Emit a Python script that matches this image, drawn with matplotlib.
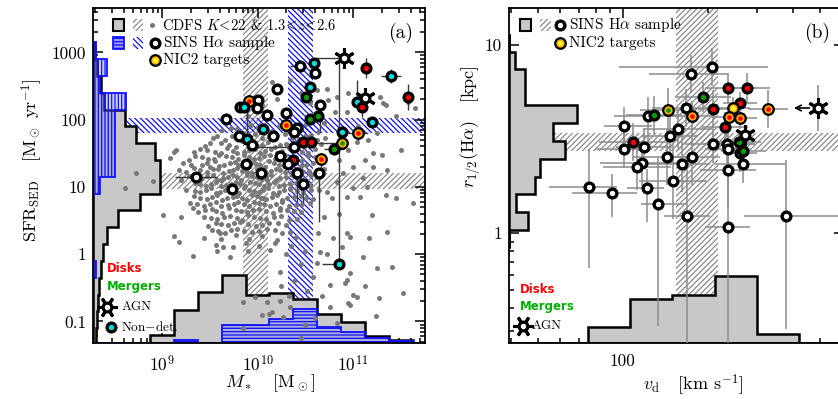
import numpy as np
import matplotlib
matplotlib.use('Agg')
import matplotlib.pyplot as plt
from matplotlib.patches import Rectangle, Polygon
from matplotlib.ticker import FixedLocator, FixedFormatter, LogLocator, NullFormatter

plt.rcParams['font.family'] = 'serif'
plt.rcParams['font.serif'] = ['cmr10']
plt.rcParams['mathtext.fontset'] = 'cm'
plt.rcParams['axes.formatter.use_mathtext'] = True
plt.rcParams['hatch.linewidth'] = 0.9

# ---------------- datos panel (a): log M*, log SFR ----------------
# CDFS K<22, 1.3<z<2.6 (puntos grises)
cdfs_pts = [
    (10.15, 2.56), (10.34, 2.59), (10.73, 2.46), (11.31, 2.25), (11.58, 2.26), (10.83, 2.34), (10.74, 2.29),
    (10.81, 2.11), (10.94, 2.11), (11.28, 2.34), (11.34, 2.22), (11.65, 2.17), (11.04, 1.67), (11.16, 1.70),
    (11.21, 1.50), (11.21, 1.29), (11.36, 1.25), (11.13, 1.40), (11.10, 1.13), (11.15, 1.00), (11.00, 0.98),
    (10.83, 1.07), (10.73, 0.92), (10.78, 0.83), (11.34, 0.88), (11.63, 0.76), (11.30, 1.47), (10.45, 2.40),
    (10.62, 2.44), (10.95, 2.40), (11.45, 2.05), (10.20, 2.30), (10.05, 2.22), (9.90, 2.05), (10.55, 2.25),
    (10.90, 1.85), (11.05, 1.90), (10.70, 1.95), (11.25, 1.80), (11.50, 1.55), (10.95, 1.55), (10.85, 1.40),
    (11.00, 1.30), (10.90, 1.20),
    (9.72, 1.88), (9.93, 1.92), (10.06, 1.84), (10.22, 1.90), (10.36, 1.86), (10.51, 1.93), (10.63, 1.82), (9.85, 1.80),
    (9.58, 1.76), (9.80, 1.72), (9.97, 1.78), (10.12, 1.74), (10.29, 1.79), (10.43, 1.71), (10.56, 1.77), (10.71, 1.73),
    (9.66, 1.70), (9.50, 1.66), (9.70, 1.63), (9.84, 1.68), (9.99, 1.61), (10.11, 1.67), (10.24, 1.62), (10.37, 1.66),
    (10.49, 1.60), (10.66, 1.64), (10.78, 1.60), (9.40, 1.56), (9.55, 1.52), (9.68, 1.58), (9.79, 1.51), (9.91, 1.55),
    (10.03, 1.50), (10.14, 1.57), (10.26, 1.53), (10.33, 1.58), (10.47, 1.52), (10.60, 1.56), (9.15, 1.55), (9.08, 1.43),
    (9.12, 1.52), (9.35, 1.46), (9.48, 1.42), (9.60, 1.48), (9.73, 1.44), (9.86, 1.47), (9.96, 1.41), (10.07, 1.46),
    (10.18, 1.42), (10.29, 1.48), (10.40, 1.43), (10.53, 1.46), (10.68, 1.42), (9.28, 1.40), (9.22, 1.35), (9.42, 1.32),
    (9.55, 1.38), (9.65, 1.33), (9.76, 1.37), (9.84, 1.31), (9.93, 1.36), (10.03, 1.32), (10.12, 1.38), (10.22, 1.33),
    (10.33, 1.36), (10.45, 1.31), (10.58, 1.35), (9.50, 1.30), (9.18, 1.25), (9.33, 1.28), (9.47, 1.22), (9.59, 1.27),
    (9.70, 1.23), (9.79, 1.28), (9.89, 1.22), (9.99, 1.27), (10.09, 1.21), (10.19, 1.26), (10.29, 1.22), (10.41, 1.27),
    (10.54, 1.23), (10.70, 1.26), (8.73, 1.20), (9.28, 1.16), (9.41, 1.12), (9.53, 1.18), (9.64, 1.13), (9.74, 1.17),
    (9.83, 1.11), (9.94, 1.16), (10.04, 1.12), (10.14, 1.18), (10.24, 1.13), (10.36, 1.17), (10.49, 1.12), (10.62, 1.15),
    (8.90, 1.09), (9.20, 1.10), (9.34, 1.06), (9.46, 1.02), (9.57, 1.08), (9.67, 1.03), (9.77, 1.07), (9.87, 1.01),
    (9.97, 1.06), (10.07, 1.02), (10.17, 1.08), (10.28, 1.03), (10.41, 1.07), (10.55, 1.01), (9.62, 1.10), (10.10, 1.10),
    (8.61, 0.98), (9.25, 0.96), (9.40, 0.92), (9.51, 0.98), (9.61, 0.93), (9.71, 0.97), (9.81, 0.91), (9.91, 0.96),
    (10.01, 0.92), (10.11, 0.98), (10.22, 0.93), (10.34, 0.97), (10.48, 0.92), (10.64, 0.95), (9.33, 0.86), (9.47, 0.82),
    (9.58, 0.88), (9.68, 0.83), (9.79, 0.87), (9.89, 0.81), (9.99, 0.86), (10.09, 0.82), (10.20, 0.88), (10.31, 0.83),
    (10.45, 0.87), (10.58, 0.82), (10.06, 0.83), (10.24, 0.65), (9.29, 0.76), (9.44, 0.72), (9.56, 0.78), (9.69, 0.73),
    (9.80, 0.77), (9.91, 0.71), (10.01, 0.76), (10.13, 0.72), (10.26, 0.78), (10.40, 0.73), (10.55, 0.76), (9.32, 0.68),
    (9.38, 0.63), (9.52, 0.67), (9.63, 0.61), (9.77, 0.66), (9.89, 0.62), (10.02, 0.67), (10.16, 0.61), (10.31, 0.66),
    (10.46, 0.62), (9.20, 0.55), (9.01, 0.58), (9.44, 0.56), (9.58, 0.52), (9.71, 0.57), (9.84, 0.51), (9.96, 0.55),
    (10.09, 0.52), (10.25, 0.57), (10.41, 0.53), (9.48, 0.42), (9.56, 0.47), (9.69, 0.43), (9.82, 0.48), (9.98, 0.42),
    (10.12, 0.46), (10.30, 0.43), (9.52, 0.36), (9.66, 0.32), (9.79, 0.38), (9.94, 0.33), (10.10, 0.37), (10.26, 0.31),
    (9.12, 0.27), (9.61, 0.31), (9.44, 0.24), (9.62, 0.22), (9.77, 0.28), (9.91, 0.23), (10.05, 0.27), (10.20, 0.21),
    (10.40, 0.26), (9.18, 0.18), (9.56, 0.14), (9.74, 0.11), (9.88, 0.17), (10.02, 0.12), (10.18, 0.16), (10.35, 0.12),
    (9.64, 0.10), (9.32, -0.03), (9.71, -0.04), (9.90, 0.04), (10.13, 0.06), (10.30, 0.01), (9.58, 0.05),
    (9.63, 1.84), (9.78, 1.86), (10.00, 1.88), (10.15, 1.83), (10.30, 1.84), (10.45, 1.88),
    (9.53, 1.73), (9.73, 1.75), (9.90, 1.74), (10.05, 1.72), (10.20, 1.77), (10.36, 1.73), (10.50, 1.75), (10.62, 1.70),
    (9.45, 1.61), (9.62, 1.65), (9.77, 1.60), (9.92, 1.64), (10.05, 1.63), (10.18, 1.60), (10.30, 1.64), (10.43, 1.62),
    (10.55, 1.65), (9.33, 1.52), (9.47, 1.55), (9.62, 1.50), (9.74, 1.54), (9.86, 1.52), (9.97, 1.57), (10.08, 1.53),
    (10.20, 1.51), (10.40, 1.55), (10.53, 1.50), (9.42, 1.45), (9.54, 1.41), (9.67, 1.46), (9.80, 1.42), (9.91, 1.45),
    (10.02, 1.43), (10.13, 1.47), (10.24, 1.41), (10.35, 1.45), (10.47, 1.40), (10.60, 1.44), (9.30, 1.33), (9.47, 1.36),
    (9.60, 1.31), (9.71, 1.35), (9.80, 1.33), (9.89, 1.38), (9.98, 1.34), (10.08, 1.30), (10.17, 1.35), (10.28, 1.31),
    (10.39, 1.38), (10.51, 1.33), (9.25, 1.22), (9.40, 1.25), (9.53, 1.26), (9.64, 1.21), (9.74, 1.25), (9.84, 1.24),
    (9.94, 1.20), (10.04, 1.24), (10.14, 1.23), (10.24, 1.25), (10.35, 1.20), (10.47, 1.24), (10.60, 1.21),
    (9.35, 1.14), (9.47, 1.16), (9.58, 1.11), (9.69, 1.15), (9.79, 1.14), (9.89, 1.18), (9.99, 1.14), (10.09, 1.15),
    (10.19, 1.11), (10.30, 1.15), (10.43, 1.14), (10.56, 1.17), (9.40, 1.04), (9.51, 1.05), (9.62, 1.01), (9.72, 1.05),
    (9.82, 1.04), (9.92, 1.08), (10.02, 1.04), (10.12, 1.05), (10.22, 1.01), (10.34, 1.05), (10.48, 1.04),
    (9.35, 0.94), (9.46, 0.95), (9.56, 0.91), (9.66, 0.95), (9.76, 0.94), (9.86, 0.98), (9.96, 0.94), (10.06, 0.95),
    (10.16, 0.91), (10.28, 0.95), (10.41, 0.94), (10.56, 0.96), (9.40, 0.84), (9.52, 0.85), (9.63, 0.81), (9.74, 0.85),
    (9.84, 0.84), (9.94, 0.88), (10.04, 0.84), (10.15, 0.85), (10.26, 0.81), (10.38, 0.85), (10.51, 0.84),
    (9.37, 0.74), (9.50, 0.75), (9.62, 0.71), (9.75, 0.75), (9.86, 0.74), (9.96, 0.78), (10.07, 0.74), (10.19, 0.75),
    (10.33, 0.71), (10.47, 0.75), (9.45, 0.65), (9.57, 0.64), (9.70, 0.68), (9.83, 0.64), (9.95, 0.65), (10.09, 0.64),
    (10.23, 0.68), (10.38, 0.64), (9.51, 0.54), (9.65, 0.55), (9.78, 0.54), (9.90, 0.58), (10.03, 0.54), (10.17, 0.55),
    (10.33, 0.51), (9.62, 0.45), (9.75, 0.46), (9.90, 0.45), (10.05, 0.44), (10.21, 0.47), (9.59, 0.35), (9.72, 0.36),
    (9.86, 0.35), (10.02, 0.34), (10.18, 0.36), (10.34, 0.33),
    (10.94, 0.85), (11.07, 0.85), (11.45, 0.83), (11.20, 0.58), (11.36, 0.33), (11.17, 0.24), (11.41, -0.19),
    (11.52, -0.57), (11.10, -0.04), (11.25, -0.21), (10.97, -0.28), (10.94, -0.39), (11.13, -0.48), (11.27, -0.65),
    (11.04, -0.64), (10.97, -0.76), (11.24, -0.92), (10.76, -0.79), (10.73, 0.01), (10.79, 0.24), (10.63, 0.31),
    (10.65, 0.03), (10.62, -0.13), (10.76, -0.46), (10.92, -0.43), (10.24, -0.27), (10.25, -0.48), (10.58, -0.34),
    (10.97, 0.25), (10.94, 0.31), (11.00, -0.61), (10.85, 0.60), (10.70, 0.55), (10.88, 0.10), (10.50, 0.05),
    (10.45, -0.15), (10.38, -0.40), (10.52, -0.55), (10.33, -0.62), (10.68, -0.62),
    (9.97, -0.64), (10.10, -0.71), (10.24, -0.70), (10.34, -0.79), (10.95, -0.73), (10.12, -0.89), (10.27, -0.94),
    (10.83, -1.03), (9.85, -0.71), (10.05, -0.91), (9.85, -1.09), (10.45, -1.25), (10.15, -0.86), (10.60, -0.95),
    (10.50, -1.05),
]

# muestra SINS Halpha
a_logm = [10.445, 10.592, 10.602, 10.906, 11.136, 11.398, 11.576, 10.204, 10.55, 10.508, 11.126, 11.042, 11.094,
          11.199, 9.911, 9.817, 9.859, 10.005, 9.995, 10.10, 9.67, 10.298, 10.298, 10.414, 10.382, 10.654, 10.55,
          10.634, 9.806, 9.89, 10.058, 10.162, 9.942, 10.382, 10.476, 10.56, 10.885, 11.052, 10.885, 10.801, 10.236,
          10.372, 10.319, 10.665, 9.88, 10.037, 10.414, 10.476, 10.644, 9.733, 9.356, 10.853]
a_logsfr = [2.798, 2.842, 2.693, 2.917, 2.768, 2.649, 2.336, 2.455, 2.485, 2.336, 2.321, 2.262, 2.188, 1.964,
            2.277, 2.188, 2.188, 2.292, 2.173, 2.068, 2.009, 2.098, 1.92, 1.875, 1.815, 2.217, 2.009, 2.054, 1.756,
            1.711, 1.86, 1.756, 1.622, 1.592, 1.667, 1.667, 1.815, 1.801, 1.652, 1.562, 1.458, 1.399, 1.339, 1.414,
            1.339, 1.205, 1.205, 1.042, 1.205, 0.967, 1.146, -0.149]
a_type = ['w', 'c', 'w', 'agn', 'r', 'c', 'r', 'w', 'c', 'g', 'agn', 'c', 'r', 'c', 'nr', 'w', 'c', 'w', 'w', 'w',
          'w', 'w', 'nr', 'w', 'w', 'w', 'g', 'g', 'w', 'c', 'c', 'w', 'w', 'w', 'r', 'r', 'c', 'nr', 'ng', 'g',
          'w', 'r', 'w', 'nr', 'w', 'w', 'w', 'w', 'w', 'w', 'w', 'c']
# barras de error (indice, dlogM-, dlogM+, dlogSFR-, dlogSFR+)
a_errs = [(50, 0.22, 0.22, 0, 0), (51, 0.18, 0, 0, 3.0), (48, 0, 0, 0.72, 0), (46, 0, 0, 0.43, 0),
          (47, 0, 0, 0.28, 0), (3, 0.29, 0, 0, 0), (4, 0, 0, 0.15, 0.15), (6, 0, 0, 0.2, 0.2),
          (5, 0.1, 0.1, 0.1, 0.1), (0, 0.1, 0, 0, 0), (43, 0, 0, 0.2, 0), (39, 0.1, 0.1, 0, 0),
          (33, 0.4, 0, 0, 0), (29, 0, 0, 0, 0.5), (11, 0, 0, 0, 0.33), (12, 0, 0, 0.15, 0),
          (25, 0, 0, 0.4, 0), (37, 0.1, 0.1, 0.1, 0.1), (38, 0.27, 0, 0, 0)]

# histogramas (fraccion del eje)
mass_edges = [8.125, 8.375, 8.625, 8.875, 9.125, 9.375, 9.625, 9.875, 10.125, 10.375, 10.625, 10.875, 11.125,
              11.375, 11.625, 11.875]
mass_hist_cdfs = [0, 0, 0, 0.024, 0.099, 0.152, 0.203, 0.143, 0.149, 0.131, 0.087, 0.063, 0.021, 0.009, 0]
mass_hist_sins = [0, 0, 0, 0, 0.009, 0, 0.054, 0.054, 0.072, 0.101, 0.048, 0.033, 0.015, 0.006, 0]
sfr_edges = [-1.35, -1.1, -0.85, -0.6, -0.35, -0.1, 0.15, 0.4, 0.65, 0.9, 1.15, 1.4, 1.65, 1.9, 2.15, 2.4, 2.65,
             2.9, 3.15]
sfr_hist_cdfs = [0.009, 0.012, 0.015, 0.018, 0.024, 0.030, 0.042, 0.075, 0.142, 0.202, 0.202, 0.187, 0.130, 0.096,
                 0.033, 0.024, 0.012, 0.006]
sfr_hist_sins = [0, 0, 0, 0, 0.009, 0, 0, 0, 0, 0.021, 0.066, 0.066, 0.066, 0.066, 0.099, 0.021, 0.042, 0.009]

# bandas (medianas): log M y log SFR
cdfs_mass_band = (9.85, 10.11)
sins_mass_band = (10.32, 10.58)
cdfs_sfr_band = (0.97, 1.20)
sins_sfr_band = (1.80, 2.02)

# ---------------- datos panel (b): log v_d, log r1/2 ----------------
b_logv = [2.316, 2.241, 2.284, 2.372, 2.44, 2.415, 2.319, 2.39, 2.376, 2.415, 2.362, 2.514, 2.691, 2.16, 2.223,
          2.245, 2.089, 2.11, 2.004, 2.195, 2.167, 2.035, 2.004, 2.074, 2.319, 2.369, 2.372, 2.415, 2.411, 2.426,
          2.433, 2.156, 2.245, 2.067, 2.05, 2.209, 2.372, 2.426, 2.177, 2.085, 1.879, 1.961, 2.124, 2.227, 2.372,
          2.578]
b_logr = [0.883, 0.846, 0.723, 0.771, 0.771, 0.691, 0.66, 0.665, 0.617, 0.612, 0.564, 0.66, 0.665, 0.654, 0.665,
          0.622, 0.622, 0.628, 0.569, 0.553, 0.516, 0.484, 0.447, 0.457, 0.473, 0.473, 0.447, 0.426, 0.484, 0.436,
          0.521, 0.404, 0.404, 0.372, 0.351, 0.367, 0.335, 0.367, 0.277, 0.239, 0.245, 0.213, 0.154, 0.09, 0.032,
          0.09]
b_type = ['w', 'w', 'g', 'r', 'r', 'r', 'r', 'ny', 'nr', 'nr', 'r', 'nr', 'agn', 'ng', 'w', 'nr', 'w', 'g', 'w', 'w',
          'w', 'r', 'w', 'w', 'w', 'w', 'w', 'w', 'g', 'g', 'agn'] + ['w'] * 15
b_dv_lo = [0.33, 0.15, 0.1, 0.08, 0.08, 0.06, 0.1, 0.06, 0.06, 0.06, 0.08, 0.07, 0, 0.1, 0.12, 0.08, 0.12, 0.1,
           0.07, 0.12, 0.1, 0.12, 0.1, 0.1, 0.1, 0.08, 0.08, 0.06, 0.08, 0.08, 0, 0.12, 0.1, 0.15, 0.12, 0.12,
           0.1, 0.1, 0.12, 0.07, 0.14, 0.14, 0.06, 0.08, 0.08, 0.15]
b_dv_hi = [0.2, 0.13, 0.1, 0.1, 0.08, 0.06, 0.1, 0.06, 0.06, 0.06, 0.08, 0.07, 0, 0.1, 0.12, 0.08, 0.1, 0.1,
           0.1, 0.12, 0.1, 0.12, 0.1, 0.1, 0.15, 0.1, 0.08, 0.06, 0.08, 0.08, 0, 0.1, 0.1, 0.15, 0.12, 0.1,
           0.1, 0.15, 0.12, 0.06, 0.1, 0.09, 0.1, 0.08, 0.08, 0.19]
b_dr_lo = [0.1, 0.1, 0.08, 0.08, 0.08, 0.06, 0.1, 0.06, 0.06, 0.06, 0.08, 0.1, 0.12, 0.12, 0.1, 0.08, 0.15, 0.1,
           0.1, 0.1, 0.12, 0.1, 0.1, 0.1, 0.1, 0.1, 0.1, 0.1, 0.06, 0.06, 0, 0.15, 0.15, 0.12, 0.12, 0.15,
           0.2, 0.1, 0.2, 0.18, 0.43, 0.13, 0.65, 0.75, 0.75, 0.6]
b_dr_hi = [0.1, 0.1, 0.08, 0.08, 0.08, 0.06, 0.1, 0.06, 0.06, 0.06, 0.08, 0.1, 0.12, 0.12, 0.1, 0.08, 0.1, 0.1,
           0.1, 0.1, 0.12, 0.1, 0.1, 0.1, 0.1, 0.1, 0.1, 0.1, 0.06, 0.06, 0, 0.15, 0.15, 0.12, 0.12, 0.15,
           0.15, 0.12, 0.2, 0.1, 0.2, 0.1, 0.25, 0.3, 0.3, 0.3]
agn_limit_dex = 0.085  # flecha de limite en v_d

r_edges = [-0.08, 0.015, 0.11, 0.205, 0.3, 0.395, 0.49, 0.585, 0.68, 0.775, 0.87, 0.965, 1.06]
r_hist = [0, 0.057, 0.021, 0.078, 0.093, 0.167, 0.131, 0.203, 0.048, 0.048, 0.018, 0]
v_edges = [1.575, 1.725, 1.875, 2.025, 2.175, 2.325, 2.475, 2.625, 2.775, 2.925]
v_hist = [0, 0, 0.048, 0.131, 0.143, 0.2, 0.027, 0, 0]
v_band = (2.188, 2.337)
r_band = (0.436, 0.532)

# ---------------- estilos ----------------
GREY_FILL = '#c8c8c8'
BLUE = '#1010ff'
COLORS = {'w': 'white', 'r': '#ff0000', 'g': '#00a000', 'c': '#00e0e0'}
CENTER = {'nr': '#ff0000', 'ng': '#00a000', 'ny': '#ffff40'}


def steps(edges, vals):
    xs, ys = [edges[0]], [0.0]
    for i, v in enumerate(vals):
        xs += [edges[i], edges[i + 1]]
        ys += [v, v]
    xs.append(edges[-1])
    ys.append(0.0)
    return np.array(xs), np.array(ys)


def hist_bottom(ax, edges, vals, **kw):
    xs, ys = steps(edges, vals)
    ax.add_patch(Polygon(np.column_stack([10 ** xs, ys]), closed=True,
                         transform=ax.get_xaxis_transform(), **kw))


def hist_left(ax, edges, vals, **kw):
    ys, xs = steps(edges, vals)
    ax.add_patch(Polygon(np.column_stack([xs, 10 ** ys]), closed=True,
                         transform=ax.get_yaxis_transform(), **kw))


def draw_point(ax, x, y, t, z, legend=False):
    kw = dict(zorder=z, clip_on=not legend)
    if legend:
        kw['transform'] = ax.transAxes
    if t == 'agn':
        ax.plot(x, y, marker=(6, 2, 90 if legend else 0), ms=15, mew=2.2, color='k', ls='none', **kw)
        ax.plot(x, y, 'o', ms=6.3, mfc='white', mec='k', mew=2.3, **kw)
    elif t in CENTER:
        ax.plot(x, y, 'o', ms=7.6, mfc='#ffb000', mec='k', mew=1.6, **kw)
        ax.plot(x, y, 'o', ms=3.4, mfc=CENTER[t], mec='none', **kw)
    else:
        ax.plot(x, y, 'o', ms=6.3, mfc=COLORS[t], mec='k', mew=2.4, **kw)


def style_axis(ax):
    for s in ax.spines.values():
        s.set_linewidth(1.3)
    ax.tick_params(which='both', direction='in', top=True, right=True, width=1.1, labelsize=12.5)
    ax.tick_params(which='major', length=7)
    ax.tick_params(which='minor', length=3.5)
    ax.tick_params(axis='x', pad=8)
    ax.tick_params(axis='y', pad=5)


fig = plt.figure(figsize=(8.38, 3.99), dpi=100)
ax1 = fig.add_axes([0.111, 0.1404, 0.3962, 0.8396])
ax2 = fig.add_axes([0.6074, 0.1404, 0.3998, 0.8396])

# =================== panel (a) ===================
ax1.set_xscale('log')
ax1.set_yscale('log')
ax1.set_xlim(10 ** 8.277, 10 ** 11.754)
ax1.set_ylim(10 ** -1.32, 10 ** 3.66)

ax1.axvspan(10 ** cdfs_mass_band[0], 10 ** cdfs_mass_band[1], facecolor='none', edgecolor='#8a8a8a',
            hatch='//////', lw=0, zorder=1)
ax1.axvspan(10 ** sins_mass_band[0], 10 ** sins_mass_band[1], facecolor='none', edgecolor=BLUE,
            hatch='\\' * 6, lw=0, zorder=1)
ax1.axhspan(10 ** cdfs_sfr_band[0], 10 ** cdfs_sfr_band[1], facecolor='none', edgecolor='#8a8a8a',
            hatch='//////', lw=0, zorder=1)
ax1.axhspan(10 ** sins_sfr_band[0], 10 ** sins_sfr_band[1], facecolor='none', edgecolor=BLUE,
            hatch='\\' * 6, lw=0, zorder=1)

hist_bottom(ax1, mass_edges, mass_hist_cdfs, facecolor=GREY_FILL, edgecolor='k', lw=1.8, zorder=2)
hist_left(ax1, sfr_edges, sfr_hist_cdfs, facecolor=GREY_FILL, edgecolor='k', lw=1.8, zorder=2)
hist_bottom(ax1, mass_edges, mass_hist_sins, facecolor=(0.45, 0.45, 1.0, 0.35), edgecolor=BLUE,
            hatch='-----', lw=1.3, zorder=2.5)
hist_left(ax1, sfr_edges, sfr_hist_sins, facecolor=(0.45, 0.45, 1.0, 0.35), edgecolor=BLUE,
          hatch='|||||', lw=1.3, zorder=2.5)

cdfs = np.array(cdfs_pts)
ax1.plot(10 ** cdfs[:, 0], 10 ** cdfs[:, 1], 'o', ms=3.6, mew=0, color='#787878', zorder=3)

for i, dml, dmh, dsl, dsh in a_errs:
    m, s = a_logm[i], a_logsfr[i]
    ax1.errorbar(10 ** m, 10 ** s,
                 xerr=[[10 ** m - 10 ** (m - dml)], [10 ** (m + dmh) - 10 ** m]],
                 yerr=[[10 ** s - 10 ** (s - dsl)], [10 ** (s + dsh) - 10 ** s]],
                 fmt='none', ecolor='#3a3a3a', elinewidth=1.0, capsize=0, zorder=4)

for i, (m, s, t) in enumerate(zip(a_logm, a_logsfr, a_type)):
    draw_point(ax1, 10 ** m, 10 ** s, t, 5 + i * 0.01)

ax1.xaxis.set_major_locator(FixedLocator([1e9, 1e10, 1e11]))
ax1.xaxis.set_major_formatter(FixedFormatter(['$10^{9}$', '$10^{10}$', '$10^{11}$']))
ax1.xaxis.set_minor_locator(LogLocator(base=10, subs=np.arange(2, 10), numticks=30))
ax1.xaxis.set_minor_formatter(NullFormatter())
ax1.yaxis.set_major_locator(FixedLocator([0.1, 1, 10, 100, 1000]))
ax1.yaxis.set_major_formatter(FixedFormatter(['0.1', '1', '10', '100', '1000']))
ax1.yaxis.set_minor_locator(LogLocator(base=10, subs=np.arange(2, 10), numticks=30))
ax1.yaxis.set_minor_formatter(NullFormatter())
style_axis(ax1)

ax1.set_ylabel(r'SFR$_{\rm SED}$   [M$_\odot$ yr$^{-1}$]', fontsize=13)
ax1.yaxis.set_label_coords(-0.145, 0.546)
ax1.set_xlabel(r'$M_*$   [M$_\odot$]', fontsize=13)
ax1.xaxis.set_label_coords(0.533, -0.088)

# leyenda (a)
ta = ax1.transAxes
for y0, fc, ec, hatch, lw in [(0.949, GREY_FILL, 'k', None, 1.5), (0.896, (0.6, 0.6, 1.0), BLUE, '-----', 1.3)]:
    ax1.add_patch(Rectangle((0.060, y0 - 0.017), 0.033, 0.034, transform=ta, facecolor=fc, edgecolor=ec,
                            hatch=hatch, lw=lw, zorder=8, clip_on=False))
ax1.add_patch(Rectangle((0.120, 0.932), 0.032, 0.034, transform=ta, facecolor='white', edgecolor='#8a8a8a',
                        hatch='//////', lw=0, zorder=8))
ax1.add_patch(Rectangle((0.120, 0.879), 0.032, 0.034, transform=ta, facecolor='white', edgecolor=BLUE,
                        hatch='\\' * 6, lw=0, zorder=8))
ax1.plot(0.178, 0.949, 'o', ms=3.6, mew=0, color='#787878', transform=ta, zorder=8)
draw_point(ax1, 0.187, 0.896, 'w', 9, legend=True)
draw_point(ax1, 0.187, 0.845, 'ny', 9, legend=True)
ax1.text(0.208, 0.949, r'CDFS $K\!<\!22$ & $1.3\!<\!z\!<\!2.6$', transform=ta, fontsize=10.5, va='center')
ax1.text(0.211, 0.896, r'SINS H$\alpha$ sample', transform=ta, fontsize=11, va='center')
ax1.text(0.211, 0.845, 'NIC2 targets', transform=ta, fontsize=11, va='center')
ax1.text(0.925, 0.925, '(a)', transform=ta, fontsize=14, ha='center', va='center')

ax1.text(0.042, 0.221, 'Disks', transform=ta, color='#ff0000', fontsize=8.5, family='DejaVu Sans',
         weight='bold', va='center', zorder=9)
ax1.text(0.042, 0.170, 'Mergers', transform=ta, color='#00b000', fontsize=8.5, family='DejaVu Sans',
         weight='bold', va='center', zorder=9)
draw_point(ax1, 0.042, 0.107, 'agn', 9, legend=True)
ax1.text(0.087, 0.107, 'AGN', transform=ta, fontsize=9.5, va='center', zorder=9)
draw_point(ax1, 0.054, 0.048, 'c', 9, legend=True)
ax1.text(0.084, 0.048, r'Non$-$det.', transform=ta, fontsize=9.5, va='center', zorder=9)

# =================== panel (b) ===================
ax2.set_xscale('log')
ax2.set_yscale('log')
ax2.set_xlim(10 ** 1.596, 10 ** 2.784)
ax2.set_ylim(10 ** -0.585, 10 ** 1.197)

ax2.axvspan(10 ** v_band[0], 10 ** v_band[1], facecolor='none', edgecolor='#8a8a8a', hatch='//////', lw=0,
            zorder=1)
ax2.axhspan(10 ** r_band[0], 10 ** r_band[1], facecolor='none', edgecolor='#8a8a8a', hatch='//////', lw=0,
            zorder=1)
hist_bottom(ax2, v_edges, v_hist, facecolor=GREY_FILL, edgecolor='k', lw=1.8, zorder=2)
hist_left(ax2, r_edges, r_hist, facecolor=GREY_FILL, edgecolor='k', lw=1.8, zorder=2)

for v, r, vl, vh, rl, rh in zip(b_logv, b_logr, b_dv_lo, b_dv_hi, b_dr_lo, b_dr_hi):
    ax2.errorbar(10 ** v, 10 ** r,
                 xerr=[[10 ** v - 10 ** (v - vl)], [10 ** (v + vh) - 10 ** v]],
                 yerr=[[10 ** r - 10 ** (r - rl)], [10 ** (r + rh) - 10 ** r]],
                 fmt='none', ecolor='#8c8c8c', elinewidth=1.1, capsize=0, zorder=4)

for i, (v, r, t) in enumerate(zip(b_logv, b_logr, b_type)):
    draw_point(ax2, 10 ** v, 10 ** r, t, 5 + i * 0.01)
    if t == 'agn' and v > 2.6:
        ax2.annotate('', xy=(10 ** (v - agn_limit_dex), 10 ** r), xytext=(10 ** v, 10 ** r),
                     arrowprops=dict(arrowstyle='->', color='k', lw=1.2, shrinkA=6, shrinkB=0), zorder=4.5)

ax2.xaxis.set_major_locator(FixedLocator([100]))
ax2.xaxis.set_major_formatter(FixedFormatter(['100']))
ax2.xaxis.set_minor_locator(LogLocator(base=10, subs=np.arange(2, 10), numticks=30))
ax2.xaxis.set_minor_formatter(NullFormatter())
ax2.yaxis.set_major_locator(FixedLocator([1, 10]))
ax2.yaxis.set_major_formatter(FixedFormatter(['1', '10']))
ax2.yaxis.set_minor_locator(LogLocator(base=10, subs=np.arange(2, 10), numticks=30))
ax2.yaxis.set_minor_formatter(NullFormatter())
style_axis(ax2)

ax2.set_ylabel(r'$r_{1/2}$(H$\alpha$)   [kpc]', fontsize=13)
ax2.yaxis.set_label_coords(-0.08, 0.645)
ax2.set_xlabel(r'$v_{\rm d}$   [km s$^{-1}$]', fontsize=13)
ax2.xaxis.set_label_coords(0.549, -0.088)

tb = ax2.transAxes
ax2.add_patch(Rectangle((0.033, 0.932), 0.034, 0.034, transform=tb, facecolor=GREY_FILL, edgecolor='k',
                        lw=1.5, zorder=8))
ax2.add_patch(Rectangle((0.093, 0.932), 0.032, 0.034, transform=tb, facecolor='white', edgecolor='#8a8a8a',
                        hatch='//////', lw=0, zorder=8))
draw_point(ax2, 0.152, 0.949, 'w', 9, legend=True)
draw_point(ax2, 0.152, 0.896, 'ny', 9, legend=True)
ax2.text(0.178, 0.949, r'SINS H$\alpha$ sample', transform=tb, fontsize=11, va='center')
ax2.text(0.178, 0.896, 'NIC2 targets', transform=tb, fontsize=11, va='center')
ax2.text(0.919, 0.925, '(b)', transform=tb, fontsize=14, ha='center', va='center')

ax2.text(0.033, 0.161, 'Disks', transform=tb, color='#ff0000', fontsize=8.5, family='DejaVu Sans',
         weight='bold', va='center', zorder=9)
ax2.text(0.033, 0.110, 'Mergers', transform=tb, color='#00b000', fontsize=8.5, family='DejaVu Sans',
         weight='bold', va='center', zorder=9)
draw_point(ax2, 0.042, 0.051, 'agn', 9, legend=True)
ax2.text(0.068, 0.051, 'AGN', transform=tb, fontsize=9.5, va='center', zorder=9)

fig.savefig('out.png', dpi=100)
